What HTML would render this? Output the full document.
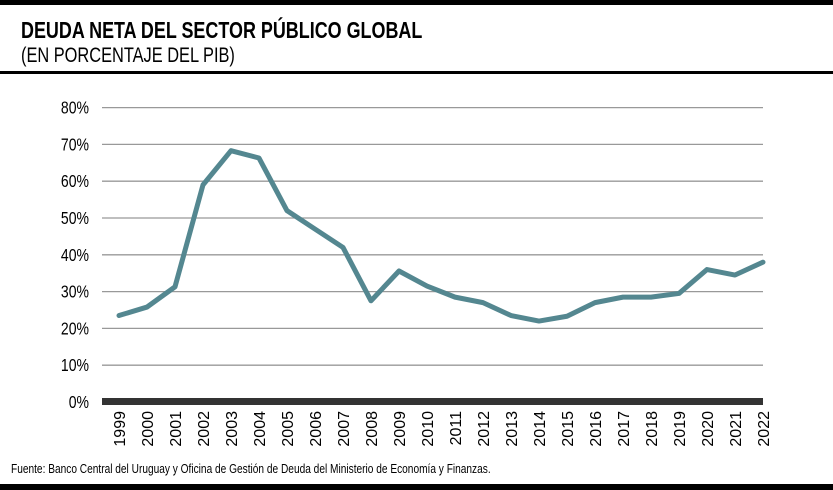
<!DOCTYPE html>
<html><head><meta charset="utf-8"><style>
body{margin:0;width:833px;height:490px;background:#fff;overflow:hidden;position:relative;font-family:"Liberation Sans",sans-serif}
.abs{position:absolute}
</style></head><body>
<div class="abs" style="left:0;top:0;width:833px;height:5px;background:#000"></div>
<div class="abs" style="left:21px;top:17px;font-size:23px;font-weight:bold;transform:scaleX(0.78);transform-origin:left top;white-space:nowrap">DEUDA NETA DEL SECTOR PÚBLICO GLOBAL</div>
<div class="abs" style="left:21px;top:44px;font-size:21px;transform:scaleX(0.78);transform-origin:left top;white-space:nowrap">(EN PORCENTAJE DEL PIB)</div>
<div class="abs" style="left:0;top:71px;width:833px;height:3px;background:#000"></div>
<svg class="abs" style="left:0;top:0" width="833" height="490">
<g id="grid"></g><g id="xl"></g><path id="ln" fill="none" stroke="#548790" stroke-width="5" stroke-linejoin="round" stroke-linecap="round"/>
</svg>
<div class="abs" style="left:11px;top:461px;font-size:13px;transform:scaleX(0.78);transform-origin:left top;white-space:nowrap">Fuente: Banco Central del Uruguay y Oficina de Gestión de Deuda del Ministerio de Economía y Finanzas.</div>
<div class="abs" style="left:0;top:484px;width:833px;height:6px;background:#000"></div>
<script>
const years=["1999","2000","2001","2002","2003","2004","2005","2006","2007","2008","2009","2010","2011","2012","2013","2014","2015","2016","2017","2018","2019","2020","2021","2022"];
const debt=[23.5,25.8,31.3,59,68.3,66.3,52,47,42,27.5,35.6,31.5,28.5,27,23.5,22,23.3,27,28.5,28.5,29.5,36,34.5,38];
const yTicks=[0,10,20,30,40,50,60,70,80];
const NS="http://www.w3.org/2000/svg";
const y=v=>402-v*3.68;
const x=i=>119+i*(763-119)/(years.length-1);
const g=document.getElementById('grid');
yTicks.forEach(t=>{
 if(t>0){const l=document.createElementNS(NS,'line');
 
 
 l.setAttribute('x1',102);l.setAttribute('x2',763);l.setAttribute('y1',y(t));l.setAttribute('y2',y(t));l.setAttribute('stroke','#999');l.setAttribute('stroke-width','1.3');g.appendChild(l);}
 const tx=document.createElementNS(NS,'text');
 
 
 tx.setAttribute('x',89);tx.setAttribute('y',y(t)+6);tx.setAttribute('text-anchor','end');tx.setAttribute('font-size','18');tx.setAttribute('transform','translate('+(89*0.22)+',0) scale(0.78,1)');tx.setAttribute('x',89/0.78*1-0);
 tx.setAttribute('transform','scale(0.78,1)');tx.setAttribute('x',89/0.78);
 tx.textContent=t+'%';g.appendChild(tx);
});
const ax=document.createElementNS(NS,'rect');


ax.setAttribute('x',102);ax.setAttribute('y',398);ax.setAttribute('width',661);ax.setAttribute('height',7);ax.setAttribute('fill','#333');g.appendChild(ax);
const xl=document.getElementById('xl');
years.forEach((yr,i)=>{
 const tx=document.createElementNS(NS,'text');
 
 
 tx.setAttribute('font-size','16');tx.setAttribute('text-anchor','end');
 tx.setAttribute('transform','translate('+(x(i)+6)+',411) rotate(-90)');
 tx.textContent=yr;xl.appendChild(tx);
});
document.getElementById('ln').setAttribute('d',debt.map((v,i)=>(i?'L':'M')+x(i)+','+y(v)).join(''));
</script>
</body></html>
